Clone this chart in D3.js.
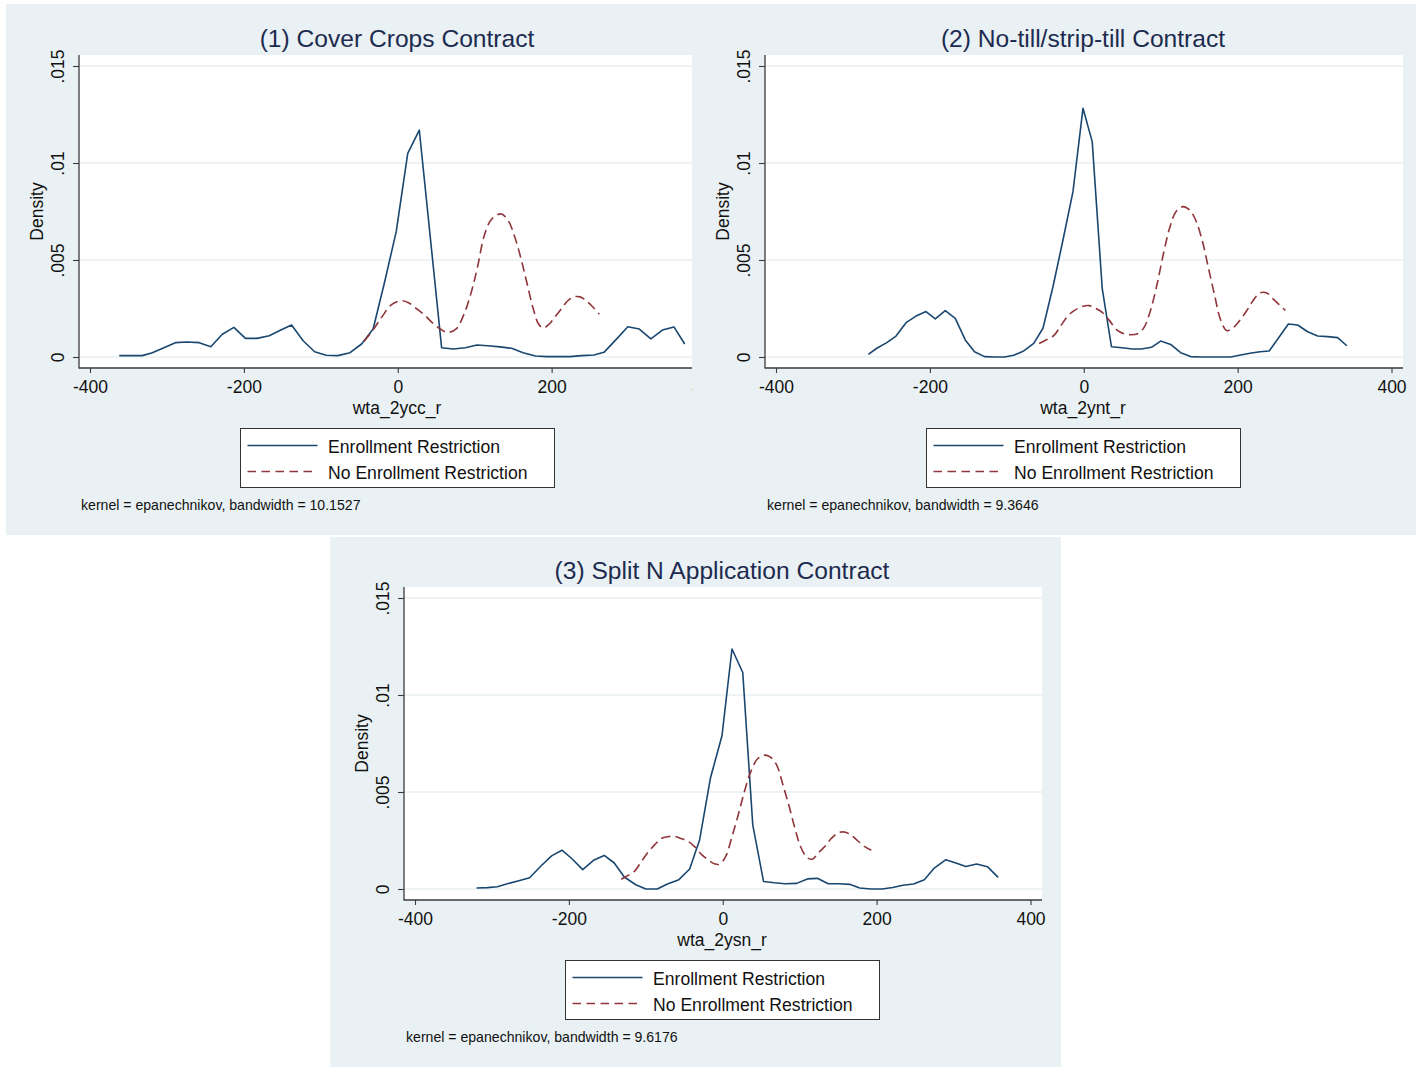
<!DOCTYPE html>
<html><head><meta charset="utf-8">
<script src="https://cdn.jsdelivr.net/npm/d3@7"></script>
<style>body{margin:0;background:#fff}svg{display:block}text{font-family:"Liberation Sans",Arial,Helvetica,sans-serif}</style>
</head><body>
<script>
// ---------- data ----------
const yTicks = [0, 0.005, 0.01, 0.015];
const yTickLabels = ["0", ".005", ".01", ".015"];
const xTicks = [-400, -200, 0, 200, 400];
const legendLabels = ["Enrollment Restriction", "No Enrollment Restriction"];
const panelTitles = ["(1) Cover Crops Contract", "(2) No-till/strip-till Contract", "(3) Split N Application Contract"];
const xTitles = ["wta_2ycc_r", "wta_2ynt_r", "wta_2ysn_r"];
const bandwidths = ["10.1527", "9.3646", "9.6176"];

const ccRestricted = [[-362,0.00007],[-347,0.00007],[-332,0.00007],[-319,0.00022],[-304,0.00048],[-289,0.00074],[-274,0.00077],[-258,0.00074],[-243,0.00053],[-228,0.00117],[-213,0.00153],[-198,0.00096],[-183,0.00096],[-167,0.0011],[-152,0.00139],[-138,0.00165],[-123,0.00084],[-108,0.00027],[-93,0.00009],[-78,0.00007],[-62,0.00022],[-47,0.00067],[-32,0.00144],[-17,0.00388],[-2,0.00646],[13,0.0105],[28,0.0117],[57,0.00048],[72,0.00041],[88,0.00048],[103,0.00062],[117,0.00058],[133,0.00052],[148,0.00045],[163,0.00022],[179,0.00005],[194,0.00002],[209,0.00002],[224,0.00002],[239,0.00007],[255,0.0001],[268,0.00024],[284,0.00091],[299,0.00156],[314,0.00144],[329,0.00093],[344,0.00139],[359,0.00155],[373,0.00067]];
const ccUnrestricted = [[-44,0.0008],[-32,0.0014],[-20,0.0021],[-8,0.0027],[4,0.0029],[14,0.0028],[24,0.0025],[34,0.0022],[44,0.0018],[54,0.00148],[64,0.00127],[76,0.00145],[86,0.0022],[96,0.0034],[104,0.0047],[112,0.0062],[120,0.007],[128,0.0073],[135,0.00737],[144,0.007],[152,0.0062],[160,0.0051],[168,0.0038],[176,0.0025],[183,0.0017],[189,0.0015],[197,0.0017],[205,0.0021],[213,0.0025],[221,0.0029],[229,0.0031],[237,0.0031],[245,0.0029],[253,0.0026],[262,0.0022]];

const ntRestricted = [[-280,0.00014],[-269,0.00045],[-256,0.00074],[-244,0.00108],[-231,0.00177],[-218,0.00211],[-205,0.00234],[-193,0.00196],[-180,0.00239],[-167,0.00199],[-154,0.00088],[-142,0.00027],[-129,0.00002],[-116,0],[-103,0],[-91,0.00009],[-78,0.00031],[-65,0.0007],[-53,0.00148],[-40,0.00362],[-27,0.00603],[-14,0.00852],[-1,0.01282],[11,0.0111],[24,0.00354],[36,0.00053],[50,0.00048],[63,0.00041],[75,0.00041],[88,0.0005],[100,0.00082],[113,0.00065],[126,0.00022],[139,0.00002],[152,0],[165,0],[178,0],[191,0],[204,0.0001],[216,0.00019],[229,0.00027],[241,0.00031],[266,0.0017],[278,0.00165],[291,0.0013],[304,0.00108],[317,0.00105],[330,0.001],[342,0.00058]];
const ntUnrestricted = [[-58,0.0007],[-48,0.0009],[-39,0.0011],[-30,0.0016],[-21,0.0021],[-12,0.0024],[-2,0.0026],[7,0.00265],[16,0.0025],[24,0.0023],[33,0.0019],[43,0.0014],[52,0.0012],[61,0.00115],[70,0.0012],[78,0.0015],[86,0.0023],[95,0.0037],[104,0.0054],[112,0.0067],[120,0.0075],[129,0.00775],[137,0.0076],[145,0.0071],[154,0.006],[162,0.0046],[170,0.0032],[178,0.0019],[186,0.00136],[194,0.0015],[203,0.0019],[212,0.0024],[220,0.0029],[229,0.0033],[238,0.0033],[246,0.003],[254,0.0027],[262,0.0024]];

const snRestricted = [[-320,0.00005],[-306,0.00007],[-293,0.00012],[-280,0.00027],[-265,0.00043],[-251,0.00058],[-236,0.0012],[-222,0.00172],[-209,0.002],[-196,0.00156],[-182,0.001],[-168,0.00148],[-154,0.00173],[-141,0.00134],[-128,0.00062],[-113,0.00022],[-100,0],[-85,0],[-72,0.00026],[-57,0.00048],[-43,0.00103],[-30,0.00254],[-16,0.00572],[-1,0.0079],[12,0.01237],[26,0.01116],[39,0.00331],[53,0.00039],[67,0.00032],[81,0.00027],[96,0.00029],[110,0.00052],[123,0.00055],[137,0.00027],[151,0.00027],[165,0.00024],[178,0.00005],[193,0],[207,0],[221,0.00008],[234,0.00019],[248,0.00026],[262,0.00048],[275,0.00108],[290,0.00151],[303,0.00134],[316,0.00116],[330,0.00129],[344,0.00115],[358,0.0006]];
const snUnrestricted = [[-132,0.0005],[-123,0.0007],[-115,0.0009],[-106,0.0014],[-97,0.0019],[-88,0.0023],[-80,0.0026],[-71,0.0027],[-63,0.00272],[-54,0.0026],[-45,0.00245],[-37,0.0022],[-28,0.0018],[-19,0.0015],[-11,0.0013],[-4,0.00128],[4,0.0017],[12,0.0027],[20,0.0038],[28,0.005],[36,0.006],[45,0.0067],[54,0.0069],[62,0.0068],[70,0.0064],[78,0.0054],[86,0.0043],[94,0.0031],[101,0.0022],[110,0.0016],[117,0.00155],[125,0.0019],[133,0.0022],[141,0.0026],[150,0.0029],[158,0.00294],[166,0.0028],[175,0.0025],[184,0.0022],[193,0.002]];

// ---------- drawing ----------
const W = 1416, H = 1067;
const BG = "#eaf1f4", GRID = "#e8f0f2", BLUE = "#1a476f", RED = "#90353b", TITLE = "#1c2b4f", AXIS = "#3a3a3a";
const svg = d3.select("body").append("svg").attr("width", W).attr("height", H);
svg.append("rect").attr("width", W).attr("height", H).attr("fill", "#fff");
svg.append("rect").attr("x", 6).attr("y", 4).attr("width", W - 6).attr("height", 531).attr("fill", BG);
svg.append("rect").attr("x", 330).attr("y", 537).attr("width", 731).attr("height", H - 537).attr("fill", BG);

const panels = [
  {ox: 0, oy: 0, clipR: 692, a: ccRestricted, b: ccUnrestricted},
  {ox: 686, oy: 0, clipR: null, a: ntRestricted, b: ntUnrestricted},
  {ox: 325, oy: 532, clipR: null, a: snRestricted, b: snUnrestricted}
];

panels.forEach((p, i) => {
  const {ox, oy} = p;
  const g = svg.append("g");
  if (p.clipR) {
    svg.append("clipPath").attr("id", "clip" + i).append("rect")
      .attr("x", ox).attr("y", oy).attr("width", p.clipR - ox).attr("height", 540);
    g.attr("clip-path", `url(#clip${i})`);
  }
  const L = ox + 79, R = ox + 717, T = oy + 55, B = oy + 368;
  const x = d3.scaleLinear().domain([-400, 400]).range([ox + 90, ox + 705.5]);
  const y = d3.scaleLinear().domain([0, 0.015]).range([oy + 357, oy + 66]);

  // title
  g.append("text").attr("x", ox + 397).attr("y", oy + 47).attr("text-anchor", "middle")
    .attr("font-size", 24.6).attr("fill", TITLE).text(panelTitles[i]);

  // plot region
  g.append("rect").attr("x", L).attr("y", T).attr("width", R - L).attr("height", B - T).attr("fill", "#fff");
  // grid
  g.selectAll(".grid").data(yTicks).join("line")
    .attr("x1", L).attr("x2", R).attr("y1", d => y(d)).attr("y2", d => y(d))
    .attr("stroke", GRID).attr("stroke-width", 1.5);

  // lines
  const lineLin = d3.line().x(d => x(d[0])).y(d => y(d[1]));
  const lineSm = d3.line().x(d => x(d[0])).y(d => y(d[1])).curve(d3.curveCatmullRom.alpha(0.5));
  g.append("path").attr("d", lineLin(p.a)).attr("fill", "none").attr("stroke", BLUE)
    .attr("stroke-width", 1.6).attr("stroke-linejoin", "round");
  g.append("path").attr("d", lineSm(p.b)).attr("fill", "none").attr("stroke", RED)
    .attr("stroke-width", 1.6).attr("stroke-dasharray", "9.5,5");

  // axes
  const ya = g.append("g").attr("transform", `translate(${L},0)`)
    .call(d3.axisLeft(y).tickValues(yTicks).tickFormat((d, k) => yTickLabels[k]).tickSize(6));
  ya.select(".domain").remove();
  ya.selectAll("line").attr("stroke", AXIS).attr("stroke-width", 1.1);
  ya.selectAll("text").attr("transform", "rotate(-90)").attr("x", 0).attr("y", -15.5).attr("dy", 0)
    .attr("text-anchor", "middle").attr("font-size", 17.5).attr("fill", "#111")
    .attr("font-family", '"Liberation Sans",Arial,sans-serif');
  const xa = g.append("g").attr("transform", `translate(0,${B})`)
    .call(d3.axisBottom(x).tickValues(xTicks).tickFormat(d => String(d)).tickSize(5));
  xa.select(".domain").remove();
  xa.selectAll("line").attr("stroke", AXIS).attr("stroke-width", 1.1);
  xa.selectAll("text").attr("y", 24.7).attr("dy", 0).attr("font-size", 17.5).attr("fill", "#111")
    .attr("font-family", '"Liberation Sans",Arial,sans-serif');
  g.append("line").attr("x1", L).attr("x2", L).attr("y1", T).attr("y2", B + 0.6).attr("stroke", AXIS).attr("stroke-width", 1.3);
  g.append("line").attr("x1", L).attr("x2", R).attr("y1", B).attr("y2", B).attr("stroke", AXIS).attr("stroke-width", 1.3);

  // axis titles
  g.append("text").attr("transform", `translate(${ox + 43.3},${oy + 211.5}) rotate(-90)`)
    .attr("text-anchor", "middle").attr("font-size", 17.5).attr("fill", "#111").text("Density");
  g.append("text").attr("x", ox + 397).attr("y", oy + 414).attr("text-anchor", "middle")
    .attr("font-size", 17.5).attr("fill", "#111").text(xTitles[i]);

  // legend
  const lg = g.append("g");
  lg.append("rect").attr("x", ox + 240.5).attr("y", oy + 428.5).attr("width", 314).attr("height", 59)
    .attr("fill", "#fff").attr("stroke", "#333").attr("stroke-width", 1);
  const cols = [BLUE, RED], dashes = [null, "8.5,5.5"];
  legendLabels.forEach((lab, k) => {
    const yy = oy + 445.5 + k * 26;
    lg.append("line").attr("x1", ox + 247.5).attr("x2", ox + 317.5).attr("y1", yy).attr("y2", yy)
      .attr("stroke", cols[k]).attr("stroke-width", 1.5).attr("stroke-dasharray", dashes[k]);
    lg.append("text").attr("x", ox + 328).attr("y", yy + 7).attr("font-size", 17.6).attr("fill", "#111").text(lab);
  });

  // note
  g.append("text").attr("x", ox + 81).attr("y", oy + 510).attr("font-size", 14.1).attr("fill", "#111")
    .text(`kernel = epanechnikov, bandwidth = ${bandwidths[i]}`);
});
</script>
</body></html>
